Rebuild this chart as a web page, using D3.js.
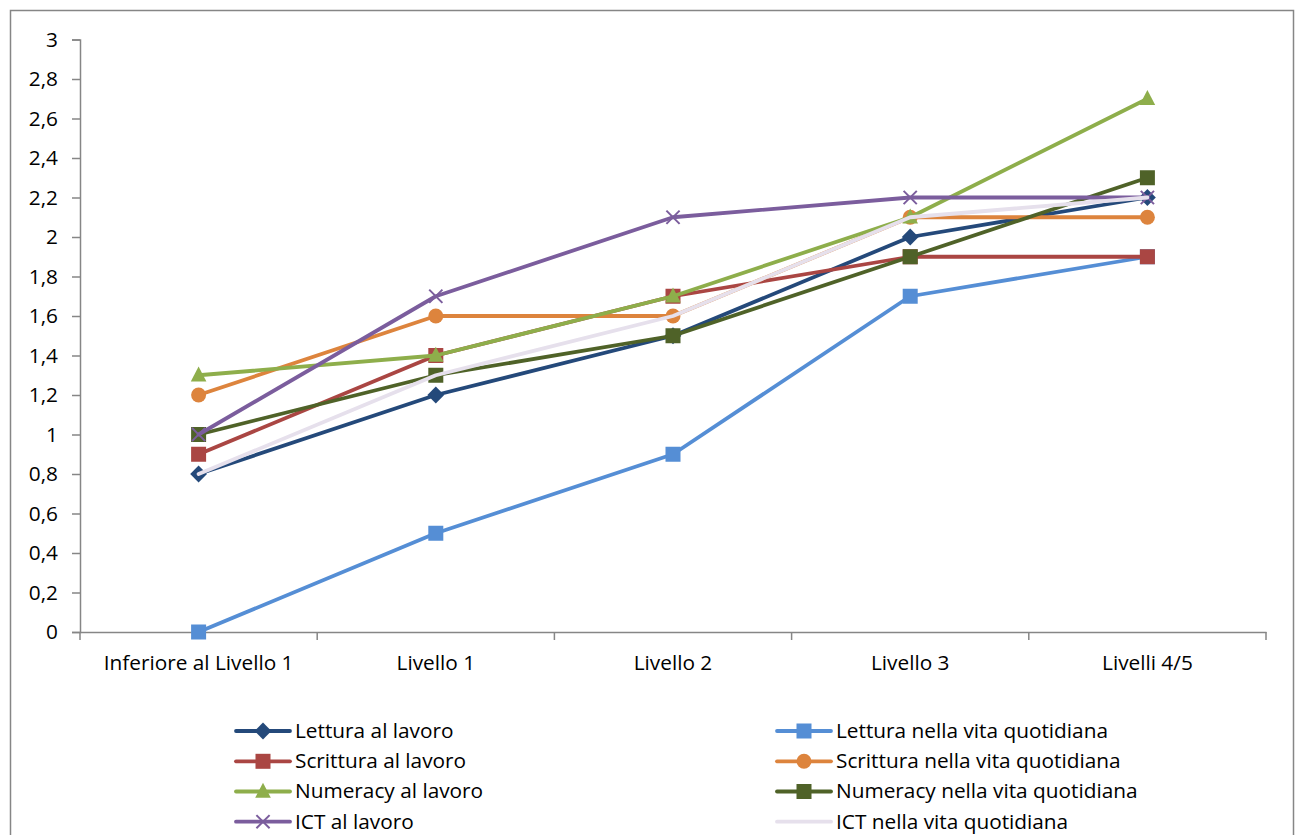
<!DOCTYPE html>
<html>
<head>
<meta charset="utf-8">
<script src="https://cdn.jsdelivr.net/npm/d3@7/dist/d3.min.js"></script>
<style>
  html, body { margin: 0; padding: 0; background: #fff; }
  svg { display: block; }
  text { font-family: "Open Sans", sans-serif; fill: #000; }
</style>
</head>
<body>
<svg id="chart" width="1295" height="835"></svg>
<script>
// Skill-use levels by proficiency level
const categories = ["Inferiore al Livello 1", "Livello 1", "Livello 2", "Livello 3", "Livelli 4/5"];
const yTicks = [0, 0.2, 0.4, 0.6, 0.8, 1, 1.2, 1.4, 1.6, 1.8, 2, 2.2, 2.4, 2.6, 2.8, 3];

const seriesNames = [
  "Lettura al lavoro",
  "Lettura nella vita quotidiana",
  "Scrittura al lavoro",
  "Scrittura nella vita quotidiana",
  "Numeracy al lavoro",
  "Numeracy nella vita quotidiana",
  "ICT al lavoro",
  "ICT nella vita quotidiana"
];
const letturaLavoro     = [0.8, 1.2, 1.5, 2.0, 2.2];
const letturaVita       = [0.0, 0.5, 0.9, 1.7, 1.9];
const scritturaLavoro   = [0.9, 1.4, 1.7, 1.9, 1.9];
const scritturaVita     = [1.2, 1.6, 1.6, 2.1, 2.1];
const numeracyLavoro    = [1.3, 1.4, 1.7, 2.1, 2.7];
const numeracyVita      = [1.0, 1.3, 1.5, 1.9, 2.3];
const ictLavoro         = [1.0, 1.7, 2.1, 2.2, 2.2];
const ictVita           = [0.8, 1.3, 1.6, 2.1, 2.2];

const seriesValues = [letturaLavoro, letturaVita, scritturaLavoro, scritturaVita,
                      numeracyLavoro, numeracyVita, ictLavoro, ictVita];
const seriesColors = ["#24497a", "#558ed5", "#aa4643", "#dd843d",
                      "#8eae4b", "#4f6228", "#7b5d9d", "#e6e0ec"];
const seriesMarkers = ["diamond", "square", "square", "circle",
                       "triangle", "square", "cross", "none"];

const FONT = "'Open Sans', sans-serif";
const FONT_SIZE = 20.8;
const LINE_W = 3.8;
const MARK = 15;

const svg = d3.select("#chart");

// outer chart frame
svg.append("rect")
  .attr("x", 10.5).attr("y", 10.5)
  .attr("width", 1283).attr("height", 840)
  .attr("fill", "#fff").attr("stroke", "#868686").attr("stroke-width", 1.5);

const plot = { left: 80, right: 1266, top: 39.5, bottom: 632 };

const x = d3.scaleBand().domain(categories).range([plot.left, plot.right]).padding(0);
const y = d3.scaleLinear().domain([0, 3]).range([plot.bottom, plot.top]);
const cx = c => x(c) + x.bandwidth() / 2;

const axisColor = "#868686";
const fmt = d => String(d).replace(".", ",");

// y axis
const yAxis = svg.append("g")
  .attr("transform", `translate(${plot.left},0)`)
  .call(d3.axisLeft(y).tickValues(yTicks).tickFormat(fmt).tickSizeOuter(0).tickSize(8).tickPadding(14));
yAxis.select(".domain").attr("stroke", axisColor).attr("stroke-width", 1.5);
yAxis.selectAll(".tick line").attr("stroke", axisColor).attr("stroke-width", 1.5);
yAxis.selectAll(".tick text").attr("font-size", FONT_SIZE).attr("font-family", FONT).attr("fill", "#000");

// x axis with ticks between categories
const xAxis = svg.append("g")
  .attr("transform", `translate(0,${plot.bottom})`)
  .call(d3.axisBottom(x).tickSize(0).tickPadding(23.5));
xAxis.select(".domain").attr("stroke", axisColor).attr("stroke-width", 1.5);
xAxis.selectAll(".tick text").attr("font-size", FONT_SIZE).attr("font-family", FONT).attr("fill", "#000");
const bounds = categories.map(c => x(c)).concat([plot.right]);
xAxis.selectAll("line.sep").data(bounds).enter().append("line")
  .attr("class", "sep")
  .attr("x1", d => d).attr("x2", d => d)
  .attr("y1", 0).attr("y2", 8)
  .attr("stroke", axisColor).attr("stroke-width", 1.5);

// marker drawing
function drawMarker(g, type, color, px, py, s) {
  if (type === "square") {
    g.append("rect").attr("x", px - s / 2).attr("y", py - s / 2)
      .attr("width", s).attr("height", s).attr("fill", color);
  } else if (type === "diamond") {
    const r = s * 0.56;
    g.append("path").attr("d", `M${px},${py - r}L${px + r},${py}L${px},${py + r}L${px - r},${py}Z`)
      .attr("fill", color);
  } else if (type === "circle") {
    g.append("circle").attr("cx", px).attr("cy", py).attr("r", s / 2).attr("fill", color);
  } else if (type === "triangle") {
    g.append("path").attr("d", `M${px},${py - s * 0.58}L${px + s * 0.52},${py + s * 0.42}L${px - s * 0.52},${py + s * 0.42}Z`)
      .attr("fill", color);
  } else if (type === "cross") {
    const r = s * 0.44;
    g.append("path").attr("d", `M${px - r},${py - r}L${px + r},${py + r}M${px - r},${py + r}L${px + r},${py - r}`)
      .attr("stroke", color).attr("stroke-width", 2).attr("fill", "none");
  }
}

const line = d3.line().x((d, i) => cx(categories[i])).y(d => y(d));

seriesValues.forEach((vals, si) => {
  const g = svg.append("g");
  g.append("path").datum(vals)
    .attr("d", line)
    .attr("fill", "none")
    .attr("stroke", seriesColors[si])
    .attr("stroke-width", LINE_W)
    .attr("stroke-linejoin", "round")
    .attr("stroke-linecap", "round");
  vals.forEach((v, i) => drawMarker(g, seriesMarkers[si], seriesColors[si], cx(categories[i]), y(v), MARK));
});

// legend: two columns, four rows
const legendCols = [236, 777];
const legendRows = [731, 761.3, 791.5, 821.7];
seriesNames.forEach((name, si) => {
  const col = si % 2, row = Math.floor(si / 2);
  const lx = legendCols[col], ly = legendRows[row];
  const g = svg.append("g");
  g.append("line").attr("x1", lx).attr("x2", lx + 54).attr("y1", ly).attr("y2", ly)
    .attr("stroke", seriesColors[si]).attr("stroke-width", LINE_W).attr("stroke-linecap", "round");
  drawMarker(g, seriesMarkers[si], seriesColors[si], lx + 27, ly, MARK);
  g.append("text").attr("x", lx + 59).attr("y", ly).attr("dy", "0.33em")
    .attr("font-size", FONT_SIZE).attr("font-family", FONT).text(name);
});
</script>
</body>
</html>
